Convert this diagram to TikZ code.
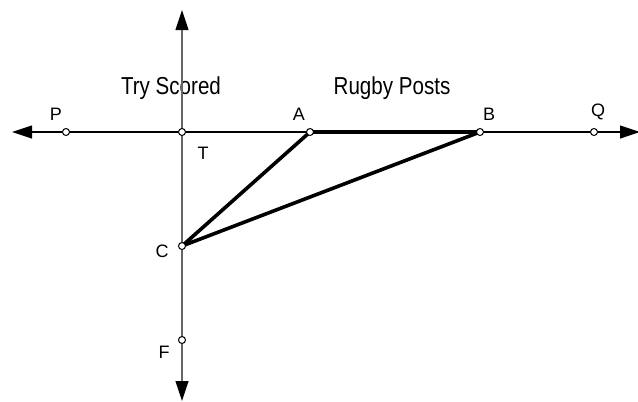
\documentclass[tikz,border=0pt]{standalone}
\usepackage{fontspec}
\setmainfont{Liberation Sans}
\usetikzlibrary{arrows.meta}
\begin{document}
\begin{tikzpicture}[x=1pt,y=-1pt,
  pt/.style={circle,draw=black,fill=white,line width=1pt,inner sep=0pt,minimum size=7pt},
  lbl/.style={font=\fontsize{18}{18}\selectfont,inner sep=0pt},
  ttl/.style={font=\fontsize{24.5}{24.5}\selectfont,inner sep=0pt},
  axis/.style={line width=1.2pt,-{Triangle[length=20pt,width=13pt,color=black]}},
  tri/.style={line width=3.6pt,line cap=round,line join=round}]
\useasboundingbox (0,0) rectangle (638,402);
% axis ends
\coordinate (L) at (12,132);
\coordinate (R) at (640,132);
\coordinate (U) at (182,10);
\coordinate (D) at (182,401);
\coordinate (O) at (182,132);
% titles
\node[ttl] (ts) at (171,88) {\scalebox{0.84}[1]{Try Scored}};
\node[ttl] (rp) at (392,88) {\scalebox{0.84}[1]{Rugby Posts}};
% axes
\draw[axis] (O) -- (L);
\draw[axis] (O) -- (R);
\draw[axis,draw=black!60] (O) -- (U);
\draw[axis,draw=black!60] (O) -- (D);
% points
\coordinate (Tc) at (182,132);
\coordinate (Pc) at (66,132);
\coordinate (Ac) at (310,132);
\coordinate (Bc) at (480,132);
\coordinate (Qc) at (594,132);
\coordinate (Cc) at (182,246);
\coordinate (Fc) at (182,340);
% triangle
\draw[tri] (Ac) -- (Bc) -- (Cc) -- cycle;
\node[pt] (T) at (Tc) {};
\node[pt] (P) at (Pc) {};
\node[pt] (A) at (Ac) {};
\node[pt] (B) at (Bc) {};
\node[pt] (Q) at (Qc) {};
\node[pt] (C) at (Cc) {};
\node[pt] (F) at (Fc) {};
% labels
\node[lbl] (lP) at (56,114) {P};
\node[lbl] (lA) at (299,114) {A};
\node[lbl] (lB) at (489,114) {B};
\node[lbl] (lQ) at (598,112) {Q};
\node[lbl] (lT) at (203,153) {T};
\node[lbl] (lC) at (162,251) {C};
\node[lbl] (lF) at (164,352) {F};
\end{tikzpicture}
\end{document}
